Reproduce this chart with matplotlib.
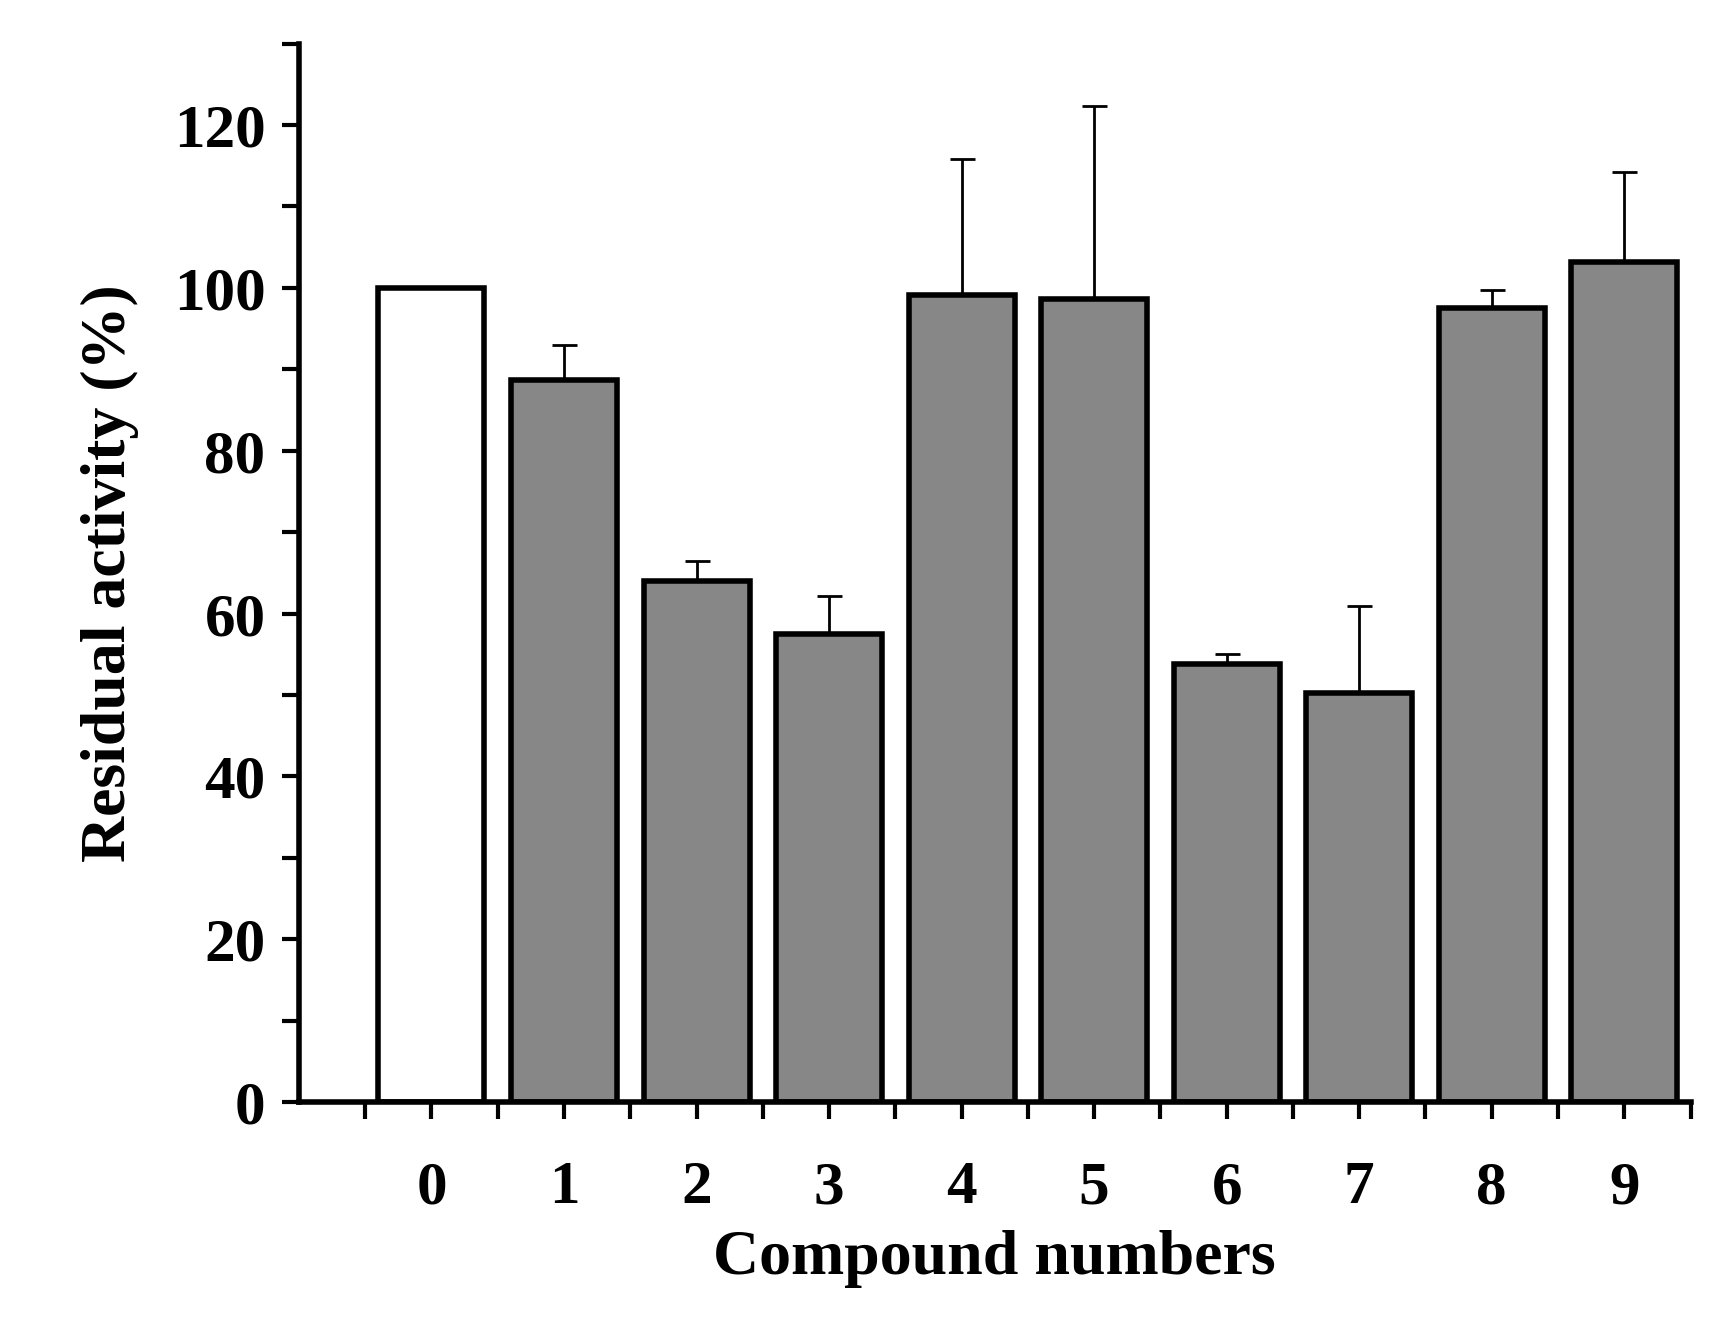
import matplotlib
matplotlib.use('Agg')
import matplotlib.pyplot as plt
from matplotlib.ticker import MultipleLocator

compounds = ['0', '1', '2', '3', '4', '5', '6', '7', '8', '9']
activity = [100, 88.7, 64.0, 57.5, 99.1, 98.6, 53.8, 50.2, 97.5, 103.2]
err_up = [0, 4.3, 2.4, 4.7, 16.7, 23.7, 1.2, 10.7, 2.3, 11.0]
colors = ['white'] + ['#878787'] * 9

plt.rcParams['font.family'] = ['Liberation Serif', 'DejaVu Serif']
plt.rcParams['font.weight'] = 'bold'

fig = plt.figure(figsize=(17.18, 13.23), dpi=100)
ax = fig.add_axes([0.174, 0.167, 0.81, 0.8])

x = list(range(len(compounds)))
ax.bar(x, activity, width=0.8, color=colors, edgecolor='black', linewidth=4, zorder=2)
ax.errorbar(x[1:], activity[1:], yerr=[[0] * 9, err_up[1:]], fmt='none',
            ecolor='black', elinewidth=2, capsize=9, capthick=2, zorder=1)

ax.set_xlim(-1.0, 9.5)
ax.set_ylim(0, 130)
ax.yaxis.set_major_locator(MultipleLocator(20))
ax.yaxis.set_minor_locator(MultipleLocator(10))
ax.set_xticks(x)
ax.set_xticklabels(compounds)
ax.set_xticks([i - 0.5 for i in range(11)], minor=True)

for s in ['top', 'right']:
    ax.spines[s].set_visible(False)
for s in ['left', 'bottom']:
    ax.spines[s].set_linewidth(4)

ax.tick_params(axis='both', which='major', length=12, width=3, labelsize=44, pad=12)
ax.tick_params(axis='both', which='minor', length=12, width=3)
ax.tick_params(axis='x', pad=30)

ax.set_xlabel('Compound numbers', fontsize=46, fontweight='bold', labelpad=10)
ax.set_ylabel('Residual activity (%)', fontsize=46, fontweight='bold', labelpad=25)

fig.savefig('out.png', dpi=100)
